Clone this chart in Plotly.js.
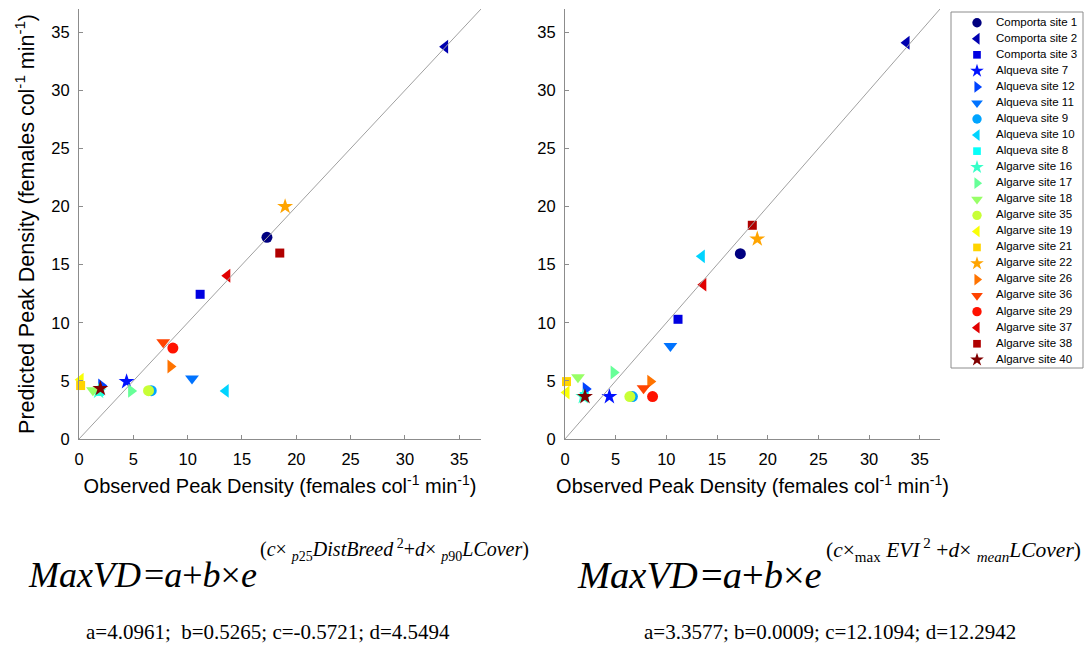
<!DOCTYPE html>
<html><head><meta charset="utf-8">
<script src="https://cdn.plot.ly/plotly-3.0.1.min.js"></script>
<style>html,body{margin:0;padding:0;background:#fff}#chart{width:1084px;height:646px}</style>
</head><body><div id="chart"></div>
<script>
// ---- data ----
const sites = ['Comporta site 1','Comporta site 2','Comporta site 3','Alqueva site 7','Alqueva site 12','Alqueva site 11','Alqueva site 9','Alqueva site 10','Alqueva site 8','Algarve site 16','Algarve site 17','Algarve site 18','Algarve site 35','Algarve site 19','Algarve site 21','Algarve site 22','Algarve site 26','Algarve site 36','Algarve site 29','Algarve site 37','Algarve site 38','Algarve site 40'];
const observed = [17.3, 33.7, 11.15, 4.38, 2.05, 10.4, 6.65, 13.5, 1.9, 1.8, 4.8, 1.28, 6.4, 0.15, 0.15, 18.97, 8.42, 7.75, 8.64, 13.65, 18.48, 1.97];
const predictedLeft = [17.35, 33.75, 12.45, 4.94, 4.6, 5.2, 4.16, 4.14, 4.1, 4.1, 4.14, 4.2, 4.16, 5.1, 4.6, 20.0, 6.24, 8.33, 7.82, 14.05, 16.0, 4.34];
const predictedRight = [15.95, 34.1, 10.3, 3.65, 4.3, 8.0, 3.65, 15.72, 3.65, 3.65, 5.72, 5.32, 3.65, 4.0, 4.94, 17.21, 4.94, 4.37, 3.65, 13.28, 18.39, 3.65];
const axisTicks = [0, 5, 10, 15, 20, 25, 30, 35];
const axisRange = [0, 37];
const xTitle = 'Observed Peak Density (females col<sup>-1</sup> min<sup>-1</sup>)';
const yTitle = 'Predicted Peak Density (females col<sup>-1</sup> min<sup>-1</sup>)';
const eqLeftMain = '<i>MaxVD</i>\u200A=<i>a</i>+<i>b</i>×<i>e</i>';
const eqLeftExp = '(<i>c</i>× <sub><i>p</i>25</sub><i>DistBreed</i><sup> 2</sup>+<i>d</i>× <sub><i>p</i>90</sub><i>LCover</i>)';
const eqRightMain = eqLeftMain;
const eqRightExp = '(<i>c</i>×<sub>max</sub> <i>EVI</i><sup> 2</sup> +<i>d</i>× <sub><i>mean</i></sub><i>LCover</i>)';
const paramsLeft = 'a=4.0961;  b=0.5265; c=-0.5721; d=4.5494';
const paramsRight = 'a=3.3577; b=0.0009; c=12.1094; d=12.2942';

// ---- styles ----
const colors = ['#000080','#0000b0','#0000e1','#0012ff','#0043ff','#0073ff','#00a4ff','#00d4ff','#06fff9','#36ffc8','#67ff98','#98ff67','#c8ff36','#f9ff06','#ffd400','#ffa400','#ff7300','#ff4300','#ff1200','#e10000','#b00000','#800000'];
const symbolCycle = ['circle','triangle-left','square','star','triangle-right','triangle-down'];
const symbols = sites.map((s, i) => symbolCycle[i % symbolCycle.length]);
const sizeBySymbol = {'circle':11,'square':9,'star':12,'triangle-left':12,'triangle-right':12,'triangle-down':12};
const sizes = symbols.map(s => sizeBySymbol[s]);
const W = 1084, H = 646;
const px = x => x / W, py = y => 1 - y / H;
const FONT = 'Liberation Sans, Arial, sans-serif';
const SERIF = 'Liberation Serif, Times New Roman, serif';

function axisBase(extra) {
  return Object.assign({
    range: axisRange, showline: true, linecolor: '#8c8c8c', linewidth: 1,
    ticks: 'inside', ticklen: 4, tickcolor: '#8c8c8c', tickvals: axisTicks,
    showgrid: false, zeroline: false, fixedrange: true, mirror: false,
    tickfont: {family: FONT, size: 16.5, color: '#000'}, ticklabelstandoff: 5
  }, extra);
}

function scatter(pred, xa, ya) {
  return {
    type: 'scatter', mode: 'markers', x: observed, y: pred, xaxis: xa, yaxis: ya,
    text: sites, hoverinfo: 'text+x+y', cliponaxis: false, showlegend: false,
    marker: {color: colors, symbol: symbols, size: sizes, opacity: 1, line: {width: 0}}
  };
}
function diag(xa, ya) {
  return {type: 'scatter', mode: 'lines', x: axisRange, y: axisRange, xaxis: xa, yaxis: ya,
    line: {color: '#a0a0a0', width: 1}, hoverinfo: 'skip', showlegend: false};
}

const idx = sites.map((s, i) => i);
const legendMarkers = {
  type: 'scatter', mode: 'markers', x: sites.map(() => 0), y: idx, xaxis: 'x3', yaxis: 'y3',
  hoverinfo: 'skip', showlegend: false, cliponaxis: false,
  marker: {color: colors, symbol: symbols, size: sizes.map(s => s * 0.85), opacity: 1, line: {width: 0}}
};
const legendText = {
  type: 'scatter', mode: 'text', x: sites.map(() => 1), y: idx, xaxis: 'x3', yaxis: 'y3',
  text: sites, textposition: 'middle right', hoverinfo: 'skip', showlegend: false, cliponaxis: false,
  textfont: {family: FONT, size: 11.5, color: '#000'}
};

const data = [scatter(predictedLeft, 'x', 'y'), diag('x', 'y'),
              scatter(predictedRight, 'x2', 'y2'), diag('x2', 'y2'),
              legendMarkers, legendText];

const xTitleFont = {family: FONT, size: 20, color: '#000'};
const yTitleFont = {family: FONT, size: 21.5, color: '#000'};
const layout = {
  width: W, height: H, margin: {l: 0, r: 0, t: 0, b: 0}, paper_bgcolor: '#fff', plot_bgcolor: '#fff',
  showlegend: false,
  xaxis: axisBase({domain: [px(79), px(481)], anchor: 'y', title: {text: xTitle, font: xTitleFont, standoff: 12}}),
  yaxis: axisBase({domain: [py(439), py(9)], anchor: 'x', title: {text: yTitle, font: yTitleFont, standoff: 10}}),
  xaxis2: axisBase({domain: [px(565), px(940)], anchor: 'y2', title: {text: xTitle, font: xTitleFont, standoff: 12}}),
  yaxis2: axisBase({domain: [py(439), py(9)], anchor: 'x2'}),
  xaxis3: {domain: [px(951), px(1083)], anchor: 'y3', range: [-26/19, 106/19], visible: false, fixedrange: true},
  yaxis3: {domain: [py(368), py(12)], anchor: 'x3', range: [21.51, -0.667], visible: false, fixedrange: true},
  shapes: [{type: 'rect', xref: 'paper', yref: 'paper', x0: px(951), x1: px(1083), y0: py(368), y1: py(12),
            line: {color: '#8c8c8c', width: 1}, fillcolor: 'rgba(0,0,0,0)'}],
  annotations: [
    {xref: 'paper', yref: 'paper', x: px(26), y: py(575), xanchor: 'left', yanchor: 'middle', showarrow: false,
     text: eqLeftMain, font: {family: SERIF, size: 36, color: '#000'}},
    {xref: 'paper', yref: 'paper', x: px(258), y: py(550), xanchor: 'left', yanchor: 'middle', showarrow: false,
     text: eqLeftExp, font: {family: SERIF, size: 20, color: '#000'}},
    {xref: 'paper', yref: 'paper', x: px(575), y: py(575), xanchor: 'left', yanchor: 'middle', showarrow: false,
     text: eqRightMain, font: {family: SERIF, size: 38.5, color: '#000'}},
    {xref: 'paper', yref: 'paper', x: px(824), y: py(550), xanchor: 'left', yanchor: 'middle', showarrow: false,
     text: eqRightExp, font: {family: SERIF, size: 21.5, color: '#000'}},
    {xref: 'paper', yref: 'paper', x: px(268), y: py(632), xanchor: 'center', yanchor: 'middle', showarrow: false,
     text: paramsLeft, font: {family: SERIF, size: 21, color: '#000'}},
    {xref: 'paper', yref: 'paper', x: px(830), y: py(632), xanchor: 'center', yanchor: 'middle', showarrow: false,
     text: paramsRight, font: {family: SERIF, size: 21, color: '#000'}}
  ]
};
Plotly.newPlot('chart', data, layout, {staticPlot: true, displayModeBar: false});
</script></body></html>
